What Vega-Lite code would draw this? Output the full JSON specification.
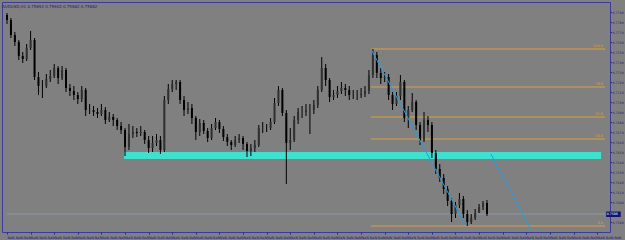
{
  "$schema": "https://vega.github.io/schema/vega-lite/v6.json",
  "width": 608,
  "height": 230,
  "autosize": {"type": "none"},
  "padding": {"left": 2, "top": 2, "right": 15, "bottom": 8},
  "background": "#808080",
  "title": {"text": "AUDUSD,H1  0.75892 0.75902 0.75862 0.75882", "anchor": "start", "frame": "group", "fontSize": 4, "font": "DejaVu Sans", "fontWeight": "normal", "color": "#1c1c7a", "offset": -7},
  "datasets": {
    "bars": [
      {"n":0,"o":0.7787,"c":0.7782,"hi":0.7789,"lo":0.7778},
      {"n":1,"o":0.7782,"c":0.7767,"hi":0.7784,"lo":0.7764},
      {"n":2,"o":0.7767,"c":0.7760,"hi":0.7770,"lo":0.7756},
      {"n":3,"o":0.7760,"c":0.7746,"hi":0.7762,"lo":0.7742},
      {"n":4,"o":0.7746,"c":0.7743,"hi":0.7750,"lo":0.7739},
      {"n":5,"o":0.7743,"c":0.7754,"hi":0.7758,"lo":0.7741},
      {"n":6,"o":0.7754,"c":0.7762,"hi":0.7771,"lo":0.7752},
      {"n":7,"o":0.7762,"c":0.7725,"hi":0.7764,"lo":0.7722},
      {"n":8,"o":0.7725,"c":0.7716,"hi":0.7730,"lo":0.7707},
      {"n":9,"o":0.7716,"c":0.7716,"hi":0.7722,"lo":0.7704},
      {"n":10,"o":0.7716,"c":0.7723,"hi":0.7728,"lo":0.7714},
      {"n":11,"o":0.7723,"c":0.7726,"hi":0.7732,"lo":0.7720},
      {"n":12,"o":0.7726,"c":0.7734,"hi":0.7738,"lo":0.7724},
      {"n":13,"o":0.7734,"c":0.7724,"hi":0.7736,"lo":0.7718},
      {"n":14,"o":0.7724,"c":0.7732,"hi":0.7736,"lo":0.7722},
      {"n":15,"o":0.7732,"c":0.7714,"hi":0.7734,"lo":0.7710},
      {"n":16,"o":0.7714,"c":0.7711,"hi":0.7718,"lo":0.7706},
      {"n":17,"o":0.7711,"c":0.7707,"hi":0.7716,"lo":0.7702},
      {"n":18,"o":0.7707,"c":0.7703,"hi":0.7710,"lo":0.7698},
      {"n":19,"o":0.7703,"c":0.7712,"hi":0.7716,"lo":0.7700},
      {"n":20,"o":0.7712,"c":0.7692,"hi":0.7714,"lo":0.7686},
      {"n":21,"o":0.7692,"c":0.7692,"hi":0.7698,"lo":0.7688},
      {"n":22,"o":0.7692,"c":0.7690,"hi":0.7696,"lo":0.7686},
      {"n":23,"o":0.7690,"c":0.7688,"hi":0.7694,"lo":0.7684},
      {"n":24,"o":0.7688,"c":0.7692,"hi":0.7698,"lo":0.7686},
      {"n":25,"o":0.7692,"c":0.7682,"hi":0.7695,"lo":0.7678},
      {"n":26,"o":0.7682,"c":0.7685,"hi":0.7690,"lo":0.7680},
      {"n":27,"o":0.7685,"c":0.7682,"hi":0.7688,"lo":0.7676},
      {"n":28,"o":0.7682,"c":0.7676,"hi":0.7684,"lo":0.7672},
      {"n":29,"o":0.7676,"c":0.7672,"hi":0.7680,"lo":0.7668},
      {"n":30,"o":0.7672,"c":0.7655,"hi":0.7674,"lo":0.7646},
      {"n":31,"o":0.7655,"c":0.7668,"hi":0.7678,"lo":0.7652},
      {"n":32,"o":0.7668,"c":0.7670,"hi":0.7676,"lo":0.7664},
      {"n":33,"o":0.7670,"c":0.7669,"hi":0.7674,"lo":0.7665},
      {"n":34,"o":0.7669,"c":0.7670,"hi":0.7676,"lo":0.7666},
      {"n":35,"o":0.7670,"c":0.7662,"hi":0.7672,"lo":0.7658},
      {"n":36,"o":0.7662,"c":0.7654,"hi":0.7666,"lo":0.7649},
      {"n":37,"o":0.7654,"c":0.7659,"hi":0.7666,"lo":0.7650},
      {"n":38,"o":0.7659,"c":0.7662,"hi":0.7668,"lo":0.7656},
      {"n":39,"o":0.7662,"c":0.7652,"hi":0.7666,"lo":0.7648},
      {"n":40,"o":0.7652,"c":0.7702,"hi":0.7706,"lo":0.7650},
      {"n":41,"o":0.7702,"c":0.7713,"hi":0.7718,"lo":0.7698},
      {"n":42,"o":0.7713,"c":0.7718,"hi":0.7722,"lo":0.7710},
      {"n":43,"o":0.7718,"c":0.7720,"hi":0.7722,"lo":0.7712},
      {"n":44,"o":0.7720,"c":0.7702,"hi":0.7722,"lo":0.7698},
      {"n":45,"o":0.7702,"c":0.7692,"hi":0.7706,"lo":0.7686},
      {"n":46,"o":0.7692,"c":0.7694,"hi":0.7700,"lo":0.7688},
      {"n":47,"o":0.7694,"c":0.7684,"hi":0.7698,"lo":0.7678},
      {"n":48,"o":0.7684,"c":0.7670,"hi":0.7686,"lo":0.7662},
      {"n":49,"o":0.7670,"c":0.7679,"hi":0.7683,"lo":0.7666},
      {"n":50,"o":0.7679,"c":0.7671,"hi":0.7682,"lo":0.7668},
      {"n":51,"o":0.7671,"c":0.7664,"hi":0.7674,"lo":0.7660},
      {"n":52,"o":0.7664,"c":0.7674,"hi":0.7678,"lo":0.7662},
      {"n":53,"o":0.7674,"c":0.7680,"hi":0.7684,"lo":0.7672},
      {"n":54,"o":0.7680,"c":0.7673,"hi":0.7682,"lo":0.7669},
      {"n":55,"o":0.7673,"c":0.7665,"hi":0.7676,"lo":0.7661},
      {"n":56,"o":0.7665,"c":0.7660,"hi":0.7668,"lo":0.7656},
      {"n":57,"o":0.7660,"c":0.7657,"hi":0.7662,"lo":0.7652},
      {"n":58,"o":0.7657,"c":0.7662,"hi":0.7666,"lo":0.7655},
      {"n":59,"o":0.7662,"c":0.7664,"hi":0.7668,"lo":0.7659},
      {"n":60,"o":0.7664,"c":0.7658,"hi":0.7666,"lo":0.7652},
      {"n":61,"o":0.7658,"c":0.7651,"hi":0.7660,"lo":0.7645},
      {"n":62,"o":0.7651,"c":0.7654,"hi":0.7658,"lo":0.7646},
      {"n":63,"o":0.7654,"c":0.7657,"hi":0.7662,"lo":0.7650},
      {"n":64,"o":0.7657,"c":0.7674,"hi":0.7677,"lo":0.7655},
      {"n":65,"o":0.7674,"c":0.7674,"hi":0.7680,"lo":0.7669},
      {"n":66,"o":0.7674,"c":0.7674,"hi":0.7678,"lo":0.7670},
      {"n":67,"o":0.7674,"c":0.7680,"hi":0.7684,"lo":0.7672},
      {"n":68,"o":0.7680,"c":0.7699,"hi":0.7704,"lo":0.7678},
      {"n":69,"o":0.7699,"c":0.7712,"hi":0.7716,"lo":0.7696},
      {"n":70,"o":0.7712,"c":0.7689,"hi":0.7714,"lo":0.7686},
      {"n":71,"o":0.7689,"c":0.7659,"hi":0.7692,"lo":0.7618},
      {"n":72,"o":0.7659,"c":0.7662,"hi":0.7674,"lo":0.7652},
      {"n":73,"o":0.7662,"c":0.7682,"hi":0.7686,"lo":0.7660},
      {"n":74,"o":0.7682,"c":0.7690,"hi":0.7694,"lo":0.7678},
      {"n":75,"o":0.7690,"c":0.7690,"hi":0.7696,"lo":0.7684},
      {"n":76,"o":0.7690,"c":0.7692,"hi":0.7698,"lo":0.7686},
      {"n":77,"o":0.7692,"c":0.7692,"hi":0.7698,"lo":0.7668},
      {"n":78,"o":0.7692,"c":0.7697,"hi":0.7702,"lo":0.7688},
      {"n":79,"o":0.7697,"c":0.7712,"hi":0.7716,"lo":0.7694},
      {"n":80,"o":0.7712,"c":0.7734,"hi":0.7745,"lo":0.7710},
      {"n":81,"o":0.7734,"c":0.7722,"hi":0.7738,"lo":0.7716},
      {"n":82,"o":0.7722,"c":0.7705,"hi":0.7724,"lo":0.7700},
      {"n":83,"o":0.7705,"c":0.7707,"hi":0.7712,"lo":0.7702},
      {"n":84,"o":0.7707,"c":0.7711,"hi":0.7716,"lo":0.7704},
      {"n":85,"o":0.7711,"c":0.7714,"hi":0.7720,"lo":0.7708},
      {"n":86,"o":0.7714,"c":0.7712,"hi":0.7718,"lo":0.7706},
      {"n":87,"o":0.7712,"c":0.7707,"hi":0.7716,"lo":0.7702},
      {"n":88,"o":0.7707,"c":0.7707,"hi":0.7712,"lo":0.7703},
      {"n":89,"o":0.7707,"c":0.7707,"hi":0.7712,"lo":0.7702},
      {"n":90,"o":0.7707,"c":0.7708,"hi":0.7714,"lo":0.7704},
      {"n":91,"o":0.7708,"c":0.7711,"hi":0.7716,"lo":0.7705},
      {"n":92,"o":0.7711,"c":0.7727,"hi":0.7732,"lo":0.7708},
      {"n":93,"o":0.7727,"c":0.7747,"hi":0.7753,"lo":0.7724},
      {"n":94,"o":0.7747,"c":0.7729,"hi":0.7750,"lo":0.7724},
      {"n":95,"o":0.7729,"c":0.7724,"hi":0.7734,"lo":0.7718},
      {"n":96,"o":0.7724,"c":0.7725,"hi":0.7730,"lo":0.7720},
      {"n":97,"o":0.7725,"c":0.7707,"hi":0.7728,"lo":0.7702},
      {"n":98,"o":0.7707,"c":0.7698,"hi":0.7710,"lo":0.7692},
      {"n":99,"o":0.7698,"c":0.7706,"hi":0.7710,"lo":0.7696},
      {"n":100,"o":0.7706,"c":0.7720,"hi":0.7727,"lo":0.7702},
      {"n":101,"o":0.7720,"c":0.7684,"hi":0.7722,"lo":0.7680},
      {"n":102,"o":0.7684,"c":0.7692,"hi":0.7696,"lo":0.7674},
      {"n":103,"o":0.7692,"c":0.7700,"hi":0.7709,"lo":0.7690},
      {"n":104,"o":0.7700,"c":0.7677,"hi":0.7702,"lo":0.7672},
      {"n":105,"o":0.7677,"c":0.7662,"hi":0.7680,"lo":0.7657},
      {"n":106,"o":0.7662,"c":0.7682,"hi":0.7690,"lo":0.7660},
      {"n":107,"o":0.7682,"c":0.7677,"hi":0.7686,"lo":0.7670},
      {"n":108,"o":0.7677,"c":0.7649,"hi":0.7680,"lo":0.7644},
      {"n":109,"o":0.7649,"c":0.7633,"hi":0.7652,"lo":0.7628},
      {"n":110,"o":0.7633,"c":0.7624,"hi":0.7638,"lo":0.7620},
      {"n":111,"o":0.7624,"c":0.7613,"hi":0.7628,"lo":0.7608},
      {"n":112,"o":0.7613,"c":0.7601,"hi":0.7616,"lo":0.7596},
      {"n":113,"o":0.7601,"c":0.7588,"hi":0.7604,"lo":0.7580},
      {"n":114,"o":0.7588,"c":0.7597,"hi":0.7600,"lo":0.7584},
      {"n":115,"o":0.7597,"c":0.7603,"hi":0.7609,"lo":0.7594},
      {"n":116,"o":0.7603,"c":0.7588,"hi":0.7606,"lo":0.7584},
      {"n":117,"o":0.7588,"c":0.7580,"hi":0.7592,"lo":0.7576},
      {"n":118,"o":0.7580,"c":0.7584,"hi":0.7588,"lo":0.7578},
      {"n":119,"o":0.7584,"c":0.7589,"hi":0.7593,"lo":0.7582},
      {"n":120,"o":0.7589,"c":0.7595,"hi":0.7598,"lo":0.7590},
      {"n":121,"o":0.7595,"c":0.7599,"hi":0.7601,"lo":0.7592},
      {"n":122,"o":0.7599,"c":0.7588,"hi":0.7602,"lo":0.7586}
    ],
    "fib": [
      {"level":"100.0","p":0.7753,"n":92.5,"n1":152},
      {"level":"78.6","p":0.7715,"n":92.5,"n1":152},
      {"level":"61.8","p":0.7685,"n":92.5,"n1":152},
      {"level":"50.0","p":0.7663,"n":92.5,"n1":152},
      {"level":"0.0","p":0.7576,"n":92.5,"n1":152}
    ],
    "zone": [
      {"n":29.75,"n1":151,"p":0.7650,"p1":0.7643}
    ],
    "trend": [
      {"line":"a","n":92.5,"p":0.7753},
      {"line":"a","n":116.5,"p":0.7577},
      {"line":"b","n":123,"p":0.7648},
      {"line":"b","n":133.5,"p":0.7570}
    ],
    "bid": [{"n":0,"n1":152,"p":0.7588}],
    "tag": [{"n":152.3,"n1":156,"p":0.75905,"p1":0.75850,"label":"0.7588"}]
  },
  "encoding": {
    "x": {"field": "n", "type": "quantitative", "title": null,
          "scale": {"domain": [0, 152], "nice": false, "zero": false},
          "axis": {"values": [0,6,12,18,24,30,36,42,48,54,60,66,72,78,84,90,96,102,108,114,120,126,132,138,144,150],
                   "labelExpr": "timeFormat(datetime(2018, 2, 5) + datum.value * 3600000, '%e %b %H:%M')",
                   "labelFontSize": 3.4, "labelAlign": "left", "labelPadding": 1, "labelOverlap": false, "labelFlush": false}},
    "y": {"field": "p", "type": "quantitative", "title": null,
          "scale": {"domain": [0.757, 0.78], "nice": false, "zero": false},
          "axis": {"orient": "right", "format": ".4f", "labelPadding": 0.5, "tickSize": 1.5, "labelFontSize": 3.2,
                   "values": [0.758,0.760,0.761,0.762,0.763,0.764,0.765,0.766,0.767,0.768,0.769,0.770,0.771,0.772,0.773,0.774,0.775,0.776,0.777,0.778,0.779]}}
  },
  "layer": [
    {
      "data": {"name": "zone"},
      "mark": {"type": "rect", "color": "#40E0D0", "clip": true},
      "encoding": {"x2": {"field": "n1"}, "y2": {"field": "p1"}}
    },
    {
      "data": {"name": "bid"},
      "mark": {"type": "rule", "color": "#8c98a4", "strokeWidth": 1, "clip": true},
      "encoding": {"x2": {"field": "n1"}}
    },
    {
      "data": {"name": "fib"},
      "mark": {"type": "rule", "color": "#DBA040", "strokeWidth": 1, "clip": true},
      "encoding": {"x2": {"field": "n1"}}
    },
    {
      "data": {"name": "fib"},
      "mark": {"type": "text", "color": "#DBA040", "fontSize": 3.5, "font": "DejaVu Sans", "align": "right", "baseline": "bottom", "dx": -2, "dy": -1, "clip": true},
      "encoding": {"x": {"field": "n1", "type": "quantitative"}, "text": {"field": "level"}}
    },
    {
      "data": {"name": "bars"},
      "mark": {"type": "rule", "color": "#000000", "strokeWidth": 1, "clip": true},
      "encoding": {"y": {"field": "lo", "type": "quantitative"}, "y2": {"field": "hi"}}
    },
    {
      "data": {"name": "bars"},
      "mark": {"type": "bar", "size": 2, "clip": true},
      "encoding": {
        "y": {"field": "o", "type": "quantitative"},
        "y2": {"field": "c"},
        "color": {"condition": {"test": "datum.c >= datum.o", "value": "#303030"}, "value": "#000000"}
      }
    },
    {
      "data": {"name": "trend"},
      "mark": {"type": "line", "color": "#1ea0e8", "strokeWidth": 1, "clip": true},
      "encoding": {"detail": {"field": "line"}}
    },
    {
      "data": {"name": "tag"},
      "mark": {"type": "rect", "color": "#14146e", "clip": false},
      "encoding": {"x2": {"field": "n1"}, "y2": {"field": "p1"}}
    },
    {
      "data": {"name": "tag"},
      "mark": {"type": "text", "color": "#ffffff", "fontSize": 3.2, "font": "DejaVu Sans", "align": "left", "baseline": "middle", "dx": 0.5, "dy": 2.5, "clip": false},
      "encoding": {"text": {"field": "label"}}
    }
  ],
  "config": {
    "view": {"stroke": "#3b3b9e", "strokeWidth": 1},
    "axis": {"grid": false, "domain": false, "labelFont": "DejaVu Sans", "labelFontSize": 4, "labelColor": "#1c1c7a", "tickColor": "#2a2a8a", "tickSize": 2}
  }
}
